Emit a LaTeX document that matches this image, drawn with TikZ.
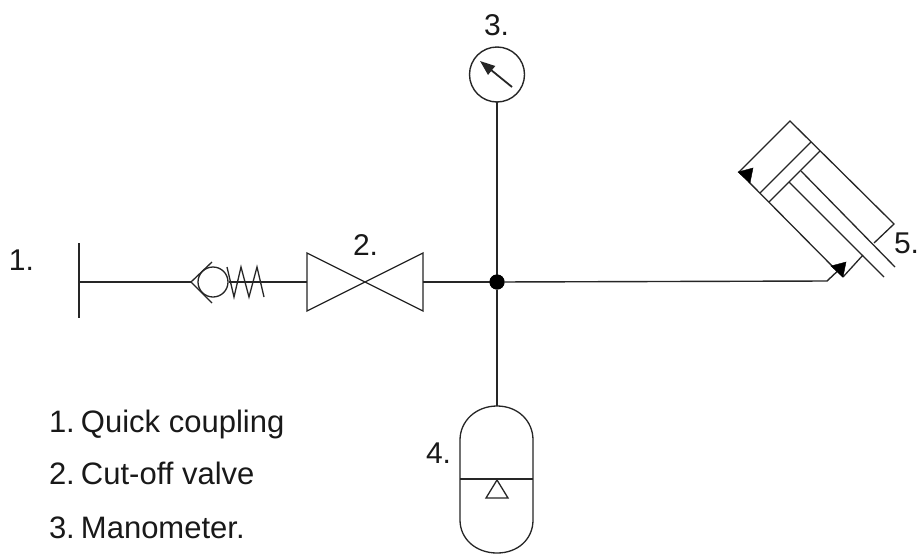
\documentclass[tikz,border=0pt]{standalone}
\usepackage{fontspec}
\setmainfont{Liberation Sans}
\usetikzlibrary{arrows.meta}
\newcommand{\legendface}{\fontsize{31}{36}\selectfont}
\newcommand{\numgap}{\kern-2.5pt\ }
\tikzset{
  pipe/.style={draw=black!85,line width=1.4pt,line join=miter},
  thin part/.style={draw=black!85,line width=1.3pt,line join=miter},
  lab/.style={anchor=base west,inner sep=0pt,outer sep=0pt,text=black!90,font=\fontsize{30}{36}\selectfont},
  legend/.style={lab,font=\legendface},
  gaugebody/.style={circle,draw=black!85,line width=1.4pt,minimum size=55pt,inner sep=0pt,outer sep=0pt},
  junction/.style={circle,fill=black,minimum size=15pt,inner sep=0pt,outer sep=0pt},
  port/.style={fill=black,draw=black,line width=0.4pt},
}
\begin{document}
\begin{tikzpicture}[x=1pt,y=-1pt]
\useasboundingbox (0,0) rectangle (920,557);
\fill[white] (0,0) rectangle (920,557);
% named points
\coordinate (cplT) at (79,243);
\coordinate (cplB) at (79,318);
\coordinate (cplM) at (79,282);
\coordinate (chkA) at (191,282);
\coordinate (chkU) at (212,262);
\coordinate (chkD) at (212,303);
\coordinate (vL) at (307,282);
\coordinate (vLT) at (307,253);
\coordinate (vLB) at (307,311);
\coordinate (vR) at (423,282);
\coordinate (vRT) at (423,253);
\coordinate (vRB) at (423,311);
\coordinate (elbow) at (827,281);
\coordinate (portB) at (843,266);
\coordinate (accT) at (497,406);
\node[junction] (dot) at (497,282) {};
\node[gaugebody] (gauge) at (497,74.5) {};
\coordinate (nTail) at (512,87);
\coordinate (nHead) at (480,61);
% coupling
\draw[pipe] (cplT) -- (cplB);
\draw[pipe] (cplM) -- (chkA);
% check valve
\draw[thin part] (chkU) -- (chkA) -- (chkD);
\node[circle,draw=black!85,line width=1.3pt,minimum size=30pt,inner sep=0pt] (ball) at (213,282) {};
\draw[thin part] (227,267) -- (234,297) -- (241,267) -- (249,297) -- (257,267) -- (264,297);
\draw[pipe] (ball.east) -- (vL);
% cut-off valve
\draw[thin part] (vLT) -- (vLB) -- (vRT) -- (vRB) -- cycle;
\draw[pipe] (vR) -- (dot);
% branches
\draw[pipe] (dot) -- (elbow) -- (portB);
\draw[pipe] (gauge) -- (dot);
\draw[pipe] (dot) -- (accT);
\fill (dot) circle (7.5);
% gauge needle
\draw[line width=1.8pt,draw=black!85,-{Triangle[length=15pt,width=11pt]}] (nTail) -- (nHead);
% accumulator
\draw[thin part] (accT) .. controls (476,406) and (460,421) .. (460,440)
  -- (460,520) .. controls (460,539) and (476,553) .. (497,553)
  .. controls (518,553) and (533,539) .. (533,520) -- (533,440)
  .. controls (533,421) and (518,406) .. (accT) -- cycle;
\draw[thin part] (460,479) -- (533,479);
\draw[thin part] (497,480) -- (486,498) -- (508,498) -- cycle;
% cylinder
\draw[thin part] (843,277) -- (739,172) -- (790,121) -- (894,224) -- (874,243);
\draw[thin part] (843,277) -- (863,255);
\draw[thin part] (811,142) -- (760,193);
\draw[thin part] (820,151) -- (769,202);
\draw[thin part] (801,171) -- (895,267);
\draw[thin part] (789,182) -- (884,277);
\fill[port] (738,172) -- (753,168) -- (750,183) -- cycle;
\fill[port] (831,266) -- (846,262) -- (843,277) -- cycle;
% labels
\node[lab] (l1) at (9,270) {1.};
\node[lab] (l2) at (353,255) {2.};
\node[lab] (l3) at (484,35) {3.};
\node[lab] (l4) at (426,463) {4.};
\node[lab] (l5) at (894,253) {5.};
\node[legend] (t1) at (49,432) {1.\numgap Quick coupling};
\node[legend] (t2) at (49,484) {2.\numgap Cut-off valve};
\node[legend] (t3) at (49,538) {3.\numgap Manometer.};
\end{tikzpicture}
\end{document}
